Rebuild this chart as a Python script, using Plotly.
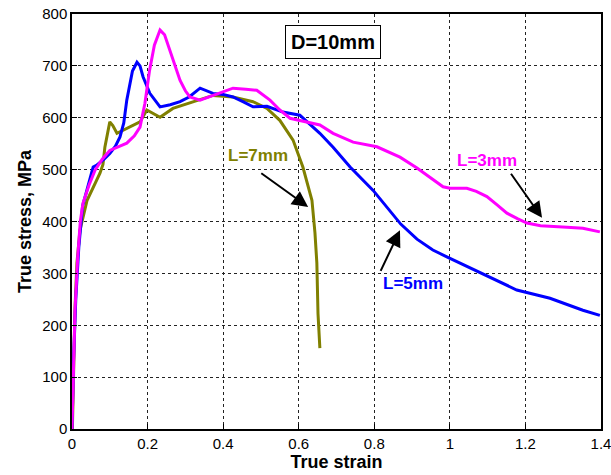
import plotly.graph_objects as go

# L=3mm (magenta)
x3 = [0, 0.003, 0.008, 0.015, 0.022, 0.029, 0.045, 0.061, 0.08, 0.10, 0.125, 0.145, 0.165, 0.18, 0.193, 0.205, 0.218,
      0.233, 0.245, 0.259, 0.272, 0.286, 0.30, 0.312, 0.339, 0.38, 0.426, 0.46, 0.489, 0.524, 0.55, 0.577, 0.603, 0.656,
      0.691, 0.744, 0.807, 0.868, 0.913, 0.955, 0.982, 1.0, 1.045, 1.07, 1.098, 1.125, 1.151, 1.18, 1.204, 1.24, 1.273, 1.31, 1.352, 1.397]
y3 = [0, 100, 230, 330, 400, 435, 470, 499, 520, 537, 545, 551, 565, 582, 628, 690, 740,
      769, 760, 730, 700, 672, 652, 640, 634, 645, 657, 655, 653, 634, 615, 599, 595, 586,
      570, 553, 544, 524, 503, 480, 467, 464, 464, 458, 448, 432, 416, 405, 397, 392, 390, 389, 387, 380]

# L=5mm (blue)
x5 = [0, 0.004, 0.01, 0.018, 0.028, 0.048, 0.056, 0.066, 0.085, 0.10, 0.115, 0.127, 0.137, 0.145, 0.16, 0.172, 0.18, 0.188,
      0.206, 0.233, 0.26, 0.286, 0.31, 0.339, 0.373, 0.40, 0.426, 0.455, 0.479, 0.516, 0.558, 0.603, 0.656, 0.691, 0.736,
      0.797, 0.833, 0.87, 0.913, 0.955, 0.992, 1.027, 1.088, 1.177, 1.265, 1.352, 1.397]
y5 = [0, 130, 250, 350, 430, 486, 505, 509, 520, 531, 545, 563, 590, 634, 690, 707, 700, 679,
      647, 621, 625, 631, 640, 657, 647, 645, 640, 630, 621, 622, 611, 605, 570, 543, 505,
      460, 428, 395, 366, 345, 332, 320, 300, 268, 252, 229, 219]

# L=7mm (olive)
x7 = [0.001, 0.004, 0.008, 0.013, 0.021, 0.040, 0.056, 0.074, 0.082, 0.087, 0.10, 0.108, 0.119, 0.145, 0.18, 0.198,
      0.233, 0.267, 0.32, 0.373, 0.426, 0.479, 0.516, 0.55, 0.585, 0.611, 0.635, 0.643, 0.648, 0.651, 0.656]
y7 = [0, 130, 235, 320, 383, 441, 467, 493, 510, 543, 592, 585, 570, 580, 592, 615,
      601, 618, 631, 643, 640, 631, 618, 595, 557, 505, 441, 378, 320, 223, 156]

x_ticks = [0, 0.2, 0.4, 0.6, 0.8, 1, 1.2, 1.4]
x_tick_text = ["0", "0.2", "0.4", "0.6", "0.8", "1", "1.2", "1.4"]
y_ticks = [0, 100, 200, 300, 400, 500, 600, 700, 800]

FONT = "Arial, Liberation Sans, sans-serif"

fig = go.Figure()
fig.add_trace(go.Scatter(x=x7, y=y7, mode="lines", line=dict(color="#808000", width=3), name="L=7mm"))
fig.add_trace(go.Scatter(x=x5, y=y5, mode="lines", line=dict(color="#0000FF", width=3), name="L=5mm"))
fig.add_trace(go.Scatter(x=x3, y=y3, mode="lines", line=dict(color="#FF00FF", width=3), name="L=3mm"))

axis_common = dict(showline=True, linecolor="black", linewidth=1.5, mirror=True,
                   showgrid=True, gridcolor="#222222", gridwidth=1, griddash="dot",
                   ticks="inside", ticklen=5, tickcolor="black", zeroline=False, automargin=False,
                   ticklabeloverflow="allow",
                   tickfont=dict(family=FONT, size=15, color="black"))

fig.update_xaxes(range=[0, 1.4], tickvals=x_ticks, ticktext=x_tick_text,
                 title=dict(text="<b>True strain</b>", font=dict(family=FONT, size=18, color="black"), standoff=2),
                 **axis_common)
fig.update_yaxes(range=[0, 800], tickvals=y_ticks,
                 title=dict(text="<b>True stress, MPa</b>", font=dict(family=FONT, size=18, color="black"), standoff=6),
                 **axis_common)

fig.add_annotation(x=0.69, y=746, text="<b>D=10mm</b>", showarrow=False,
                   font=dict(family=FONT, size=20, color="black"),
                   bordercolor="black", borderwidth=1, bgcolor="white", borderpad=5)
fig.add_annotation(x=0.492, y=528, text="<b>L=7mm</b>", showarrow=False,
                   font=dict(family=FONT, size=17, color="#808000"))
fig.add_annotation(x=1.098, y=518, text="<b>L=3mm</b>", showarrow=False,
                   font=dict(family=FONT, size=17, color="#FF00FF"))
fig.add_annotation(x=0.903, y=281, text="<b>L=5mm</b>", showarrow=False,
                   font=dict(family=FONT, size=17, color="#0000FF"))
# arrows
for (hx, hy, tx, ty) in [(0.625, 428, 0.497, 495), (1.244, 407, 1.159, 495), (0.868, 383, 0.815, 302)]:
    fig.add_annotation(x=hx, y=hy, ax=tx, ay=ty, xref="x", yref="y", axref="x", ayref="y",
                       text="", showarrow=True, arrowhead=2, arrowsize=1.6, arrowwidth=2, arrowcolor="black")

fig.update_layout(width=611, height=475, margin=dict(l=72, r=10, t=14, b=46),
                  plot_bgcolor="white", paper_bgcolor="white", showlegend=False)

fig.write_html("out.html", config={"displayModeBar": False},
               post_script="document.body.style.margin='0';document.body.style.overflow='hidden';")
